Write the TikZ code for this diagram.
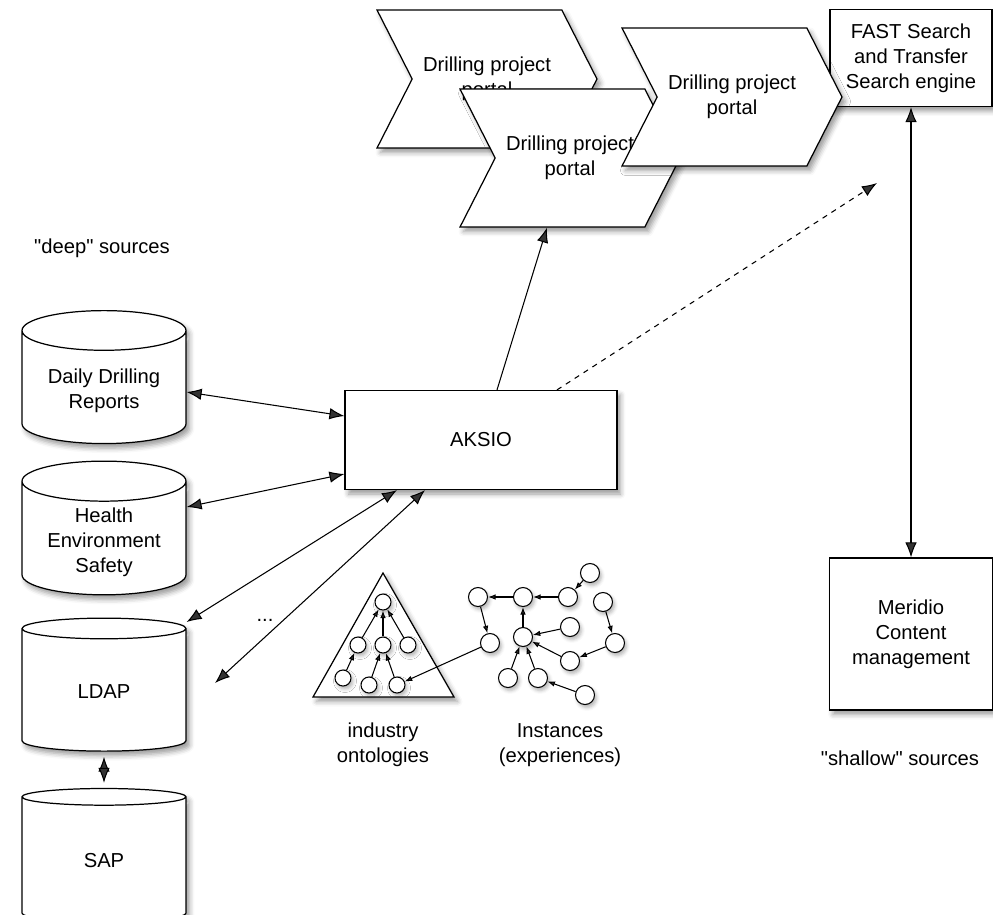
\documentclass[tikz,border=0pt]{standalone}
\usepackage{fontspec}
\setmainfont{Liberation Sans}
\usetikzlibrary{shapes.geometric,shapes.symbols,arrows.meta,shadows.blur}

\begin{document}
\begin{tikzpicture}[
    x=0.02cm, y=-0.02cm,
    >={Latex[length=3mm,width=2.3mm]},
    soft/.style={
        blur shadow={shadow xshift=0.7mm, shadow yshift=-0.9mm,
                     shadow blur radius=1mm, shadow opacity=40}
    },
    store/.style={
        cylinder,
        shape border rotate=90,
        aspect=0.32,
        draw,
        fill=white,
        line width=0.7pt,
        minimum width=3.28cm,
        minimum height=2.66cm,
        align=center,
        soft
    },
    box/.style={
        rectangle,
        draw,
        fill=white,
        line width=0.7pt,
        align=center,
        soft
    },
    portal/.style={
        signal,
        signal to=east,
        signal from=west,
        signal pointer angle=126,
        draw,
        fill=white,
        line width=0.7pt,
        minimum width=4.4cm,
        minimum height=2.76cm,
        inner sep=0pt,
        align=center,
        soft
    },
    dot/.style={
        circle,
        draw,
        fill=white,
        line width=0.6pt,
        minimum size=3.2mm,
        inner sep=0pt,
        blur shadow={shadow xshift=0.4mm, shadow yshift=-0.6mm,
                     shadow blur radius=0.7mm, shadow opacity=30}
    },
    bigdot/.style={
        dot,
        minimum size=3.8mm
    },
    link/.style={
        <->,
        line width=0.6pt
    },
    arrow/.style={
        ->,
        line width=0.6pt
    },
    tie/.style={
        -{Latex[length=1.5mm,width=1.1mm]},
        line width=0.6pt
    },
    every node/.style={
        font=\fontsize{11.5}{14.2}\selectfont,
        align=center
    }
]
\useasboundingbox (0,0) rectangle (993,914);

% Deep sources
\node (deeplabel) at (102,248) {\textquotedbl deep\textquotedbl\ sources};
\node[store] (daily) at (104,391) {Daily Drilling\\Reports};
\node[store] (hes) at (104,542) {Health\\Environment\\Safety};
\node[store] (ldap) at (104,692) {LDAP};
\node[store] (sap) at (104,861) {SAP};

% Core
\node[box, minimum width=5.44cm, minimum height=1.98cm] (aksio) at (481,440) {AKSIO};

% Industry ontologies
\draw[line width=0.7pt, fill=white, soft] (383,573) -- (454,697) -- (313,697) -- cycle;
\node[dot] (o1) at (383,602) {};
\node[dot] (o2) at (358,645) {};
\node[dot] (o3) at (383,645) {};
\node[dot] (o4) at (408,645) {};
\node[dot] (o5) at (343,678) {};
\node[dot] (o6) at (369,685) {};
\node[dot] (o7) at (397,685) {};
\node (ontolabel) at (383,745) {industry\\ontologies};

% Instances
\node[bigdot] (ia) at (478,597) {};
\node[bigdot] (ib) at (523,597) {};
\node[bigdot] (ic) at (568,597) {};
\node[bigdot] (id) at (590,573) {};
\node[bigdot] (ie) at (603,602) {};
\node[bigdot] (if) at (490,643) {};
\node[bigdot] (ig) at (523,637) {};
\node[bigdot] (ih) at (570,627) {};
\node[bigdot] (ii) at (615,643) {};
\node[bigdot] (ij) at (570,661) {};
\node[bigdot] (ik) at (508,678) {};
\node[bigdot] (il) at (538,678) {};
\node[bigdot] (im) at (585,695) {};
\node (instlabel) at (560,745) {Instances\\(experiences)};

% Portals and search
\node[box, minimum width=3.24cm, minimum height=1.94cm] (fast) at (911,58) {FAST Search\\and Transfer\\Search engine};
\node[portal] (portal1) at (487,79) {Drilling project\\portal};
\node[portal] (portal2) at (570,158) {Drilling project\\portal};
\node[portal] (portal3) at (732,97) {Drilling project\\portal};

% Shallow sources
\node[box, minimum width=3.26cm, minimum height=3.04cm] (meridio) at (911,634) {Meridio\\Content\\management};
\node (shallowlabel) at (900,758) {\textquotedbl shallow\textquotedbl\ sources};

\node (more) at (265,620) {...};
\coordinate (moreend) at (215,683);
\coordinate (searchend) at (877,183);

% Arrows
\draw[link] ([yshift=-0.2mm]daily.east) -- ([yshift=4.8mm]aksio.west);
\draw[link] ([yshift=7mm]hes.east) -- ([yshift=-6.8mm]aksio.west);
\draw[link] ([yshift=14mm]ldap.east) -- ([xshift=-16.8mm]aksio.south);
\draw[link] (moreend) -- ([xshift=-11.2mm]aksio.south);
\draw[link, shorten <=1mm, shorten >=1mm] (ldap.south) -- (sap.north);
\draw[arrow] ([xshift=3.2mm]aksio.north) -- ([xshift=-4.6mm]portal2.south);
\draw[arrow, dashed] ([xshift=15.2mm]aksio.north) -- (searchend);
\draw[link] (fast) -- (meridio);

% Ontology links
\draw[tie] (o2) -- (o1);
\draw[tie] (o3) -- (o1);
\draw[tie] (o4) -- (o1);
\draw[tie] (o5) -- (o2);
\draw[tie] (o6) -- (o3);
\draw[tie] (o7) -- (o3);

% Instance links
\draw[tie] (ib) -- (ia);
\draw[tie] (ic) -- (ib);
\draw[tie] (id) -- (ic);
\draw[tie] (ia) -- (if);
\draw[tie] (ig) -- (ib);
\draw[tie] (ih) -- (ig);
\draw[tie] (ij) -- (ig);
\draw[tie] (ik) -- (ig);
\draw[tie] (il) -- (ig);
\draw[tie] (ie) -- (ii);
\draw[tie] (ii) -- (ij);
\draw[tie] (im) -- (il);
\draw[tie] (if) -- (o7);

\end{tikzpicture}
\end{document}
